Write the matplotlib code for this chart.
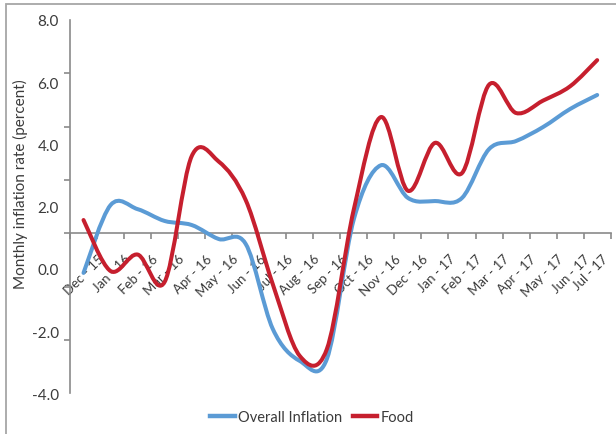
import matplotlib
matplotlib.use("Agg")
import matplotlib.pyplot as plt
from matplotlib.path import Path
from matplotlib.patches import PathPatch, Rectangle
from matplotlib.lines import Line2D
from matplotlib.transforms import ScaledTranslation
import numpy as np

categories = ["Dec - 15", "Jan - 16", "Feb - 16", "Mar - 16", "Apr - 16", "May - 16",
              "Jun - 16", "Jul - 16", "Aug - 16", "Sep - 16", "Oct - 16", "Nov - 16",
              "Dec - 16", "Jan - 17", "Feb - 17", "Mar - 17", "Apr - 17", "May - 17",
              "Jun - 17", "Jul - 17"]
overall = [-0.13, 2.05, 1.92, 1.54, 1.41, 0.96, 0.80, -1.93, -2.96, -2.90,
           1.60, 3.33, 2.28, 2.18, 2.28, 3.85, 4.11, 4.56, 5.14, 5.59]
food = [1.57, -0.07, 0.46, -0.42, 3.62, 3.45, 2.21, -0.49, -2.80, -2.58,
        1.92, 4.88, 2.51, 4.05, 3.08, 5.92, 5.01, 5.41, 5.87, 6.71]
ytick_labels = ["8.0", "6.0", "4.0", "2.0", "0.0", "-2.0", "-4.0"]
ytick_values = [8, 6, 4, 2, 0, -2, -4]

FONT = "Lato"
TXT = "#3b3b3b"
GRAY = "#8a8a8a"
BLUE = "#5B9BD5"
RED = "#C61F2E"

plt.rcParams["font.family"] = [FONT, "DejaVu Sans"]

W, H = 616, 435
fig = plt.figure(figsize=(W / 100, H / 100), dpi=100)
ax = fig.add_axes([70 / W, 1 - 394.3 / H, 540.7 / W, 373.3 / H])

n = len(categories)
x = np.arange(n)


def smooth_path(xs, ys):
    verts = [(xs[0], ys[0])]
    codes = [Path.MOVETO]
    m = len(xs)
    for i in range(m - 1):
        a = i - 1 if i > 0 else 0
        b = i + 2 if i + 2 < m else m - 1
        c1 = (xs[i] + (xs[i + 1] - xs[a]) / 6, ys[i] + (ys[i + 1] - ys[a]) / 6)
        c2 = (xs[i + 1] - (xs[b] - xs[i]) / 6, ys[i + 1] - (ys[b] - ys[i]) / 6)
        verts += [c1, c2, (xs[i + 1], ys[i + 1])]
        codes += [Path.CURVE4] * 3
    return Path(verts, codes)


for series, col in [(overall, BLUE), (food, RED)]:
    p = smooth_path(list(x), list(series))
    ax.add_patch(PathPatch(p, fill=False, edgecolor=col, lw=2.9,
                           capstyle="round", joinstyle="round", zorder=3))

ax.set_xlim(-0.5, n - 0.5)
ax.set_ylim(-4, 8)

step = 12 / 7
cross = 8 - 4 * step

for s in ["top", "right"]:
    ax.spines[s].set_visible(False)
ax.spines["left"].set_color(GRAY)
ax.spines["left"].set_linewidth(1.2)
ax.spines["bottom"].set_color(GRAY)
ax.spines["bottom"].set_linewidth(1.2)
ax.spines["bottom"].set_position(("data", cross))
ax.spines["bottom"].set_zorder(2)

# y axis
ax.set_yticks(ytick_values)
ax.set_yticklabels(ytick_labels)
ax.set_yticks([8 - k * step for k in range(8)], minor=True)
ax.tick_params(axis="y", which="major", length=0, pad=8, labelsize=11, labelcolor=TXT)
ax.tick_params(axis="y", which="minor", length=4, width=1.2, color=GRAY, direction="out")

# x axis
ax.set_xticks(x)
ax.set_xticklabels(categories)
ax.set_xticks(np.arange(n + 1) - 0.5, minor=True)
ax.tick_params(axis="x", which="major", length=0, pad=16.5, labelsize=9.5, labelcolor=TXT)
ax.tick_params(axis="x", which="minor", length=4, width=1.2, color=GRAY, direction="out")
labels = ax.get_xticklabels()
for i, lab in enumerate(labels):
    dx = 18 if i < n - 1 else 9
    lab.set_rotation(45)
    lab.set_rotation_mode("anchor")
    lab.set_ha("right")
    lab.set_va("center")
    lab.set_transform(lab.get_transform() + ScaledTranslation(dx / 100, 0, fig.dpi_scale_trans))

ax.set_ylabel("Monthly inflation rate (percent)", fontsize=11, color=TXT)
ax.yaxis.set_label_coords(28 / W, 1 - 184 / H, transform=fig.transFigure)

handles = [Line2D([], [], color=BLUE, lw=3.2), Line2D([], [], color=RED, lw=3.2)]
fig.legend(handles, ["Overall Inflation", "Food"], ncol=2, frameon=False,
           loc="center", bbox_to_anchor=(312 / W, 1 - 418 / H),
           fontsize=10.5, handlelength=1.7, handletextpad=0.25, columnspacing=0.7,
           labelcolor=TXT)

border = Rectangle((6.3 / W, -0.2), 1.5, 1.2 - 4.7 / H, transform=fig.transFigure,
                   fill=False, edgecolor="#a6a6a6", lw=1.3, clip_on=False)
fig.patches.append(border)

fig.savefig("out.png", dpi=100)
